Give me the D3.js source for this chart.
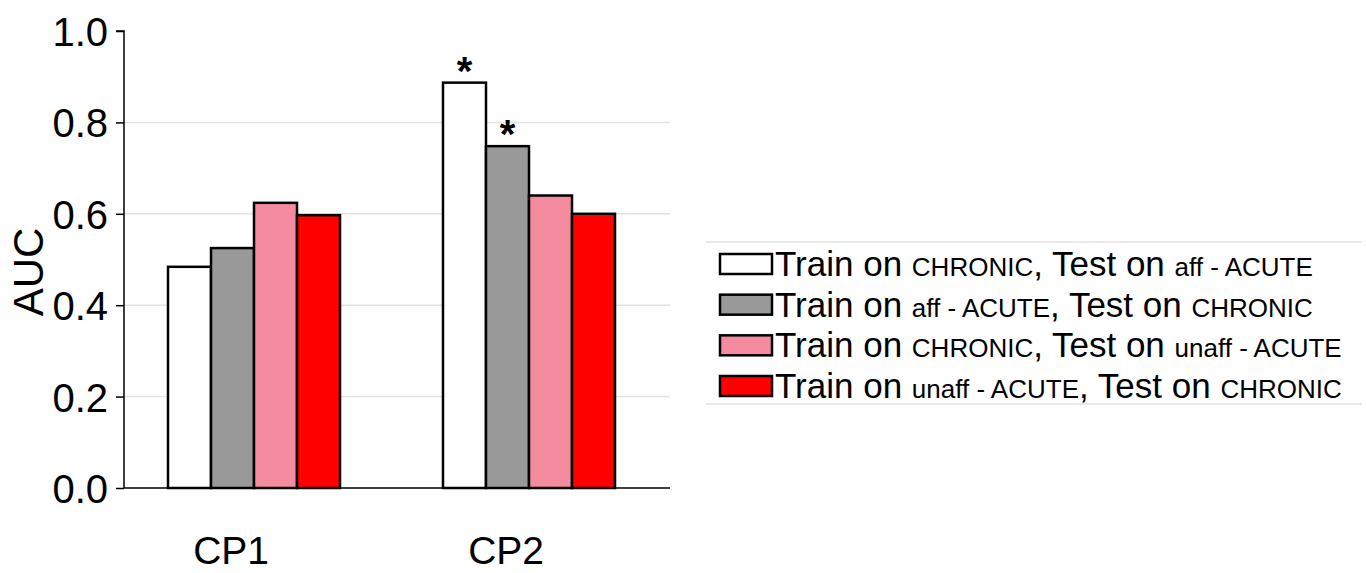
<!DOCTYPE html>
<html><head><meta charset="utf-8">
<script src="https://cdn.jsdelivr.net/npm/d3@7"></script>
<style>
html,body{margin:0;padding:0;background:#fff;}
svg{display:block;font-family:"Liberation Sans",Arial,Helvetica,sans-serif;}
</style></head><body>
<svg id="c" width="1366" height="573"></svg>
<script>
const categories = ["CP1", "CP2"];
const seriesNames = [
  "Train on CHRONIC, Test on aff - ACUTE",
  "Train on aff - ACUTE, Test on CHRONIC",
  "Train on CHRONIC, Test on unaff - ACUTE",
  "Train on unaff - ACUTE, Test on CHRONIC"
];
// legend label parts: [text, isSmall]
const legendParts = [
  [["Train on ", false], ["CHRONIC", true], [", Test on ", false], ["aff - ACUTE", true]],
  [["Train on ", false], ["aff - ACUTE", true], [", Test on ", false], ["CHRONIC", true]],
  [["Train on ", false], ["CHRONIC", true], [", Test on ", false], ["unaff - ACUTE", true]],
  [["Train on ", false], ["unaff - ACUTE", true], [", Test on ", false], ["CHRONIC", true]]
];
const seriesColors = ["#ffffff", "#999999", "#f58b9e", "#ff0000"];
const valuesCP1 = [0.484, 0.525, 0.624, 0.597];
const valuesCP2 = [0.887, 0.748, 0.640, 0.600];
const significant = [[false,false,false,false],[true,true,false,false]];
const yTicks = [0.0, 0.2, 0.4, 0.6, 0.8, 1.0];
const yLabel = "AUC";

const values = [valuesCP1, valuesCP2];
const svg = d3.select("#c");

const y = d3.scaleLinear().domain([0, 1]).range([488, 31]);
const x0 = d3.scaleBand().domain(categories).range([168, 615]).paddingInner(0.3745).paddingOuter(0);
const x1 = d3.scaleBand().domain(d3.range(seriesNames.length)).range([0, x0.bandwidth()]);
const axisX = 124, gridEnd = 670;

// gridlines
svg.append("g").selectAll("line").data(yTicks.filter(t => t > 0 && t < 1)).join("line")
  .attr("x1", axisX).attr("x2", gridEnd)
  .attr("y1", d => y(d)).attr("y2", d => y(d))
  .attr("stroke", "#e2e2e2").attr("stroke-width", 1.5);

// bars
const groups = svg.append("g").selectAll("g").data(categories).join("g")
  .attr("transform", c => `translate(${x0(c)},0)`);
groups.selectAll("rect").data((c, ci) => values[ci].map((v, i) => ({v, i, ci}))).join("rect")
  .attr("x", d => x1(d.i)).attr("width", x1.bandwidth())
  .attr("y", d => y(d.v)).attr("height", d => y(0) - y(d.v))
  .attr("fill", d => seriesColors[d.i]).attr("stroke", "#000").attr("stroke-width", 2.5);
groups.selectAll("text.star").data((c, ci) => values[ci].map((v, i) => ({v, i, ci})).filter(d => significant[d.ci][d.i])).join("text")
  .attr("class", "star")
  .attr("x", d => x1(d.i) + x1.bandwidth() / 2).attr("y", d => y(d.v) + 2)
  .attr("text-anchor", "middle").attr("font-size", 40).attr("font-weight", "bold").text("*");

// baseline
svg.append("line").attr("x1", axisX).attr("x2", gridEnd).attr("y1", y(0)).attr("y2", y(0))
  .attr("stroke", "#000").attr("stroke-width", 1.5);

// y axis
const yAxis = d3.axisLeft(y).tickValues(yTicks).tickFormat(d3.format(".1f")).tickSize(8).tickPadding(8);
const ga = svg.append("g").attr("transform", `translate(${axisX},0)`).call(yAxis);
ga.select(".domain").attr("stroke", "#000").attr("stroke-width", 1.5).attr("d", `M-8,${y(1)}H0V${y(0)}`);
ga.selectAll(".tick line").attr("stroke", "#000").attr("stroke-width", 1.5);
ga.selectAll(".tick text").attr("font-size", 40).attr("fill", "#000")
  .attr("font-family", "Liberation Sans, Arial, sans-serif").attr("dy", "0.36em");

svg.append("text").attr("transform", `translate(43,272) rotate(-90)`)
  .attr("text-anchor", "middle").attr("font-size", 42).text(yLabel);

// x labels
svg.append("g").selectAll("text").data(categories).join("text")
  .attr("x", c => x0(c) + x0.bandwidth() * 0.367).attr("y", 564)
  .attr("text-anchor", "middle").attr("font-size", 39).text(c => c);

// legend
const lg = svg.append("g");
lg.append("line").attr("x1", 706).attr("x2", 1362).attr("y1", 242).attr("y2", 242).attr("stroke", "#e2e2e2").attr("stroke-width", 1.5);
lg.append("line").attr("x1", 706).attr("x2", 1362).attr("y1", 404).attr("y2", 404).attr("stroke", "#e2e2e2").attr("stroke-width", 1.5);
const rowY = d3.scaleLinear().domain([0, 3]).range([264, 386]);
const rows = lg.selectAll("g.row").data(seriesNames).join("g").attr("class", "row")
  .attr("transform", (d, i) => `translate(0,${rowY(i)})`);
rows.append("rect").attr("x", 720).attr("y", -10).attr("width", 52).attr("height", 20)
  .attr("fill", (d, i) => seriesColors[i]).attr("stroke", "#000").attr("stroke-width", 2.5);
const txt = rows.append("text").attr("x", 775).attr("y", 12);
txt.selectAll("tspan").data((d, i) => legendParts[i]).join("tspan")
  .attr("font-size", p => p[1] ? 26 : 35).text(p => p[0]);
</script>
</body></html>
